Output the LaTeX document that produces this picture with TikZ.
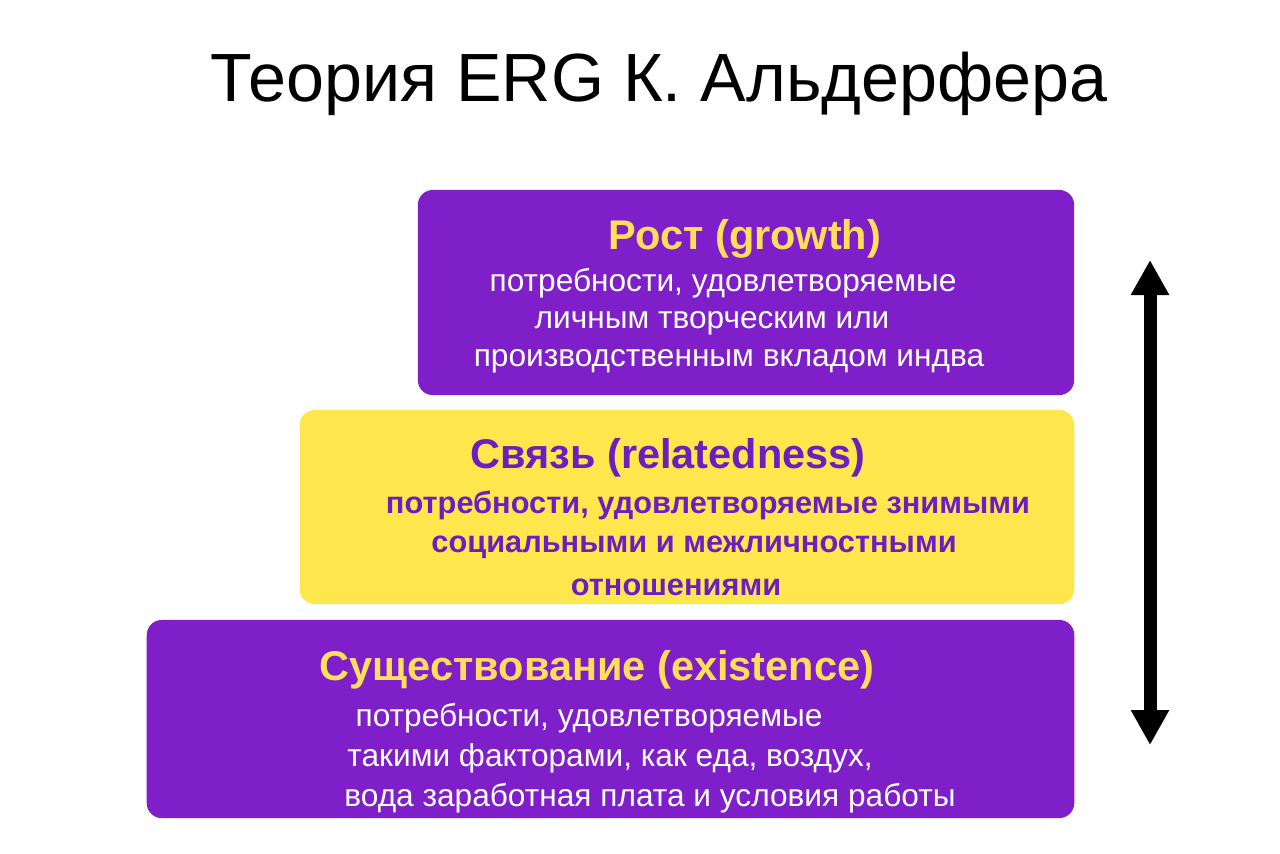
\documentclass[tikz,border=0pt]{standalone}
\usepackage{fontspec}
\setmainfont{Liberation Sans}
\usetikzlibrary{arrows.meta}
\definecolor{ergpurple}{HTML}{7E1FC9}
\definecolor{ergyellow}{HTML}{FDE74C}
\definecolor{headyellow}{HTML}{FFDE59}
\definecolor{textpurple}{HTML}{6A1FC0}
\tikzset{
  level/.style={rounded corners=0.15cm, inner sep=0pt},
  head/.style={font=\fontsize{11.8}{13}\selectfont\bfseries},
  body/.style={font=\fontsize{9}{10}\selectfont},
  boldbody/.style={font=\fontsize{8.75}{10}\selectfont\bfseries},
}
\begin{document}
\begin{tikzpicture}[x=0.01cm,y=-0.01cm]
\useasboundingbox [fill=white] (0,0) rectangle (1280,853);
% titre
\node (title) at (659,84) {\fontsize{19.4}{22}\selectfont Теория ERG К. Альдерфера};
% niveaux
\node [level, fill=ergpurple, minimum width=6.56cm, minimum height=2.05cm] (growth) at (746,292.5) {};
\node [level, fill=ergyellow, minimum width=7.74cm, minimum height=1.94cm] (related) at (687,507) {};
\node [level, fill=ergpurple, minimum width=9.27cm, minimum height=1.98cm] (exist) at (610.5,719) {};
% textes : croissance
\node [head, text=headyellow] (growthhead) at (745,239) {Рост (growth)};
\node [body, text=white] (growthA) at (723,283) {потребности, удовлетворяемые};
\node [body, text=white] (growthB) at (712,323) {личным творческим или};
\node [body, text=white] (growthC) at (729,361) {производственным вкладом индва};
% textes : relations
\node [head, text=textpurple] (relatedhead) at (668,458) {Связь (relatedness)};
\node [boldbody, text=textpurple] (relatedA) at (708,505) {потребности, удовлетворяемые знимыми};
\node [boldbody, text=textpurple] (relatedB) at (694,547) {социальными и межличностными};
\node [boldbody, text=textpurple] (relatedC) at (676,587) {отношениями};
% textes : existence
\node [head, text=headyellow] (existhead) at (597,670) {Существование (existence)};
\node [body, text=white] (existA) at (589,718) {потребности, удовлетворяемые};
\node [body, text=white] (existB) at (610,758) {такими факторами, как еда, воздух,};
\node [body, text=white] (existC) at (650,798) {вода заработная плата и условия работы};
% fleche
\coordinate (arrtop) at (1150,260);
\coordinate (arrbot) at (1150,745);
\draw [line width=0.13cm, {Triangle[width=0.36cm,length=0.35cm]}-{Triangle[width=0.36cm,length=0.35cm]}] (arrtop) -- (arrbot);
\end{tikzpicture}
\end{document}
